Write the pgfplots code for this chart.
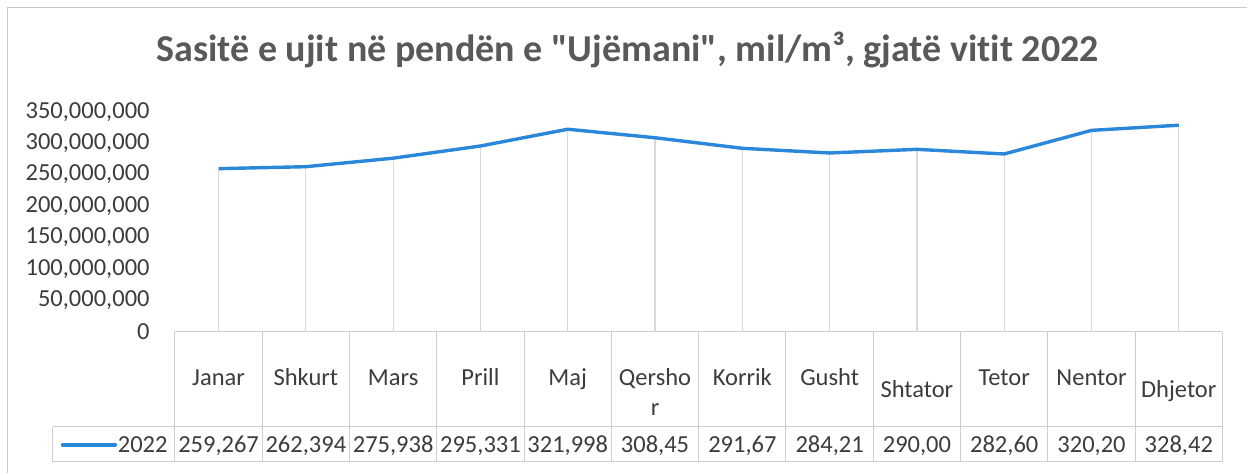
\documentclass[border=0pt]{standalone}
\usepackage{fontspec}
\setmainfont{Carlito}[Ligatures={NoCommon}]
\usepackage{pgfplots}
\pgfplotsset{compat=1.18}
\definecolor{lineblue}{RGB}{42,135,218}
\definecolor{titlegray}{RGB}{89,89,89}
\definecolor{txtgray}{RGB}{60,60,60}
\definecolor{gridgray}{RGB}{217,217,217}
\definecolor{tablegray}{RGB}{205,205,205}
\definecolor{framegray}{RGB}{200,200,200}

\pgfplotstableread{
x y
0 259267000
1 262394000
2 275938000
3 295331000
4 321998000
5 308450000
6 291670000
7 284210000
8 290000000
9 282600000
10 320200000
11 328420000
}\datatbl

\newcommand\tfont{\fontsize{12.25bp}{15bp}\selectfont}

\begin{document}
\begin{tikzpicture}
\begin{scope}[x=0.5bp,y=-0.5bp]
\path (0,0) rectangle (1248,473);
\draw[framegray, line width=0.6bp] (7.5,473) -- (7.5,7.5) -- (1248,7.5);
\node[font=\bfseries\fontsize{19bp}{22bp}\selectfont, text=titlegray] at (628,50) {Sasitë e ujit në pendën e \textquotedbl Ujëmani\textquotedbl, mil/m³, gjatë vitit 2022};
\draw[tablegray, line width=0.5bp] (175,331.7) -- (1223,331.7);
\draw[tablegray, line width=0.5bp] (53,427) -- (1223,427);
\draw[tablegray, line width=0.5bp] (53,462) -- (1223,462);
\foreach \i in {0,...,12} \draw[tablegray, line width=0.5bp] (175+87.33*\i,331.7) -- (175+87.33*\i,462);
\draw[tablegray, line width=0.5bp] (53,427) -- (53,462);
\draw[lineblue, line width=2.2bp, line cap=round] (63,445) -- (115,445);
\node[anchor=base east, inner sep=0pt, font=\tfont, text=txtgray] at (168,452.5) {2022};
\end{scope}
\begin{axis}[
  at={(87.5bp,-165.85bp)}, anchor=south west,
  scale only axis, width=524bp, height=110bp,
  xmin=-0.5, xmax=11.5, ymin=0, ymax=350000000,
  clip=false,
  axis line style={draw=none},
  tick style={draw=none},
  scaled y ticks=false,
  ytick={0,50000000,100000000,150000000,200000000,250000000,300000000,350000000},
  yticklabel style={/pgf/number format/fixed, /pgf/number format/1000 sep={,}, /pgf/number format/assume math mode=true, anchor=east, inner sep=0pt, xshift=-12.5bp, font=\tfont, text=txtgray},
  xtick={0,...,11},
  xticklabels={Janar,Shkurt,Mars,Prill,Maj,{\begin{tabular}[t]{@{}c@{}}Qersho\\r\end{tabular}},Korrik,Gusht,\raisebox{-6bp}{Shtator},Tetor,Nentor,\raisebox{-6bp}{Dhjetor}},
  xticklabel style={anchor=base, inner sep=0pt, yshift=-26.9bp, font=\tfont, text=txtgray},
  extra x ticks={0,...,11},
  extra x tick labels={{259,267},{262,394},{275,938},{295,331},{321,998},{308,45},{291,67},{284,21},{290,00},{282,60},{320,20},{328,42}},
  extra x tick style={xticklabel style={yshift=-33.5bp}},
]
\addplot[ycomb, gridgray, line width=0.6bp, mark=none] table[x=x,y=y] {\datatbl};
\addplot[lineblue, line width=1.7bp, line join=round, mark=none] table[x=x,y=y] {\datatbl};
\end{axis}
\end{tikzpicture}
\end{document}
